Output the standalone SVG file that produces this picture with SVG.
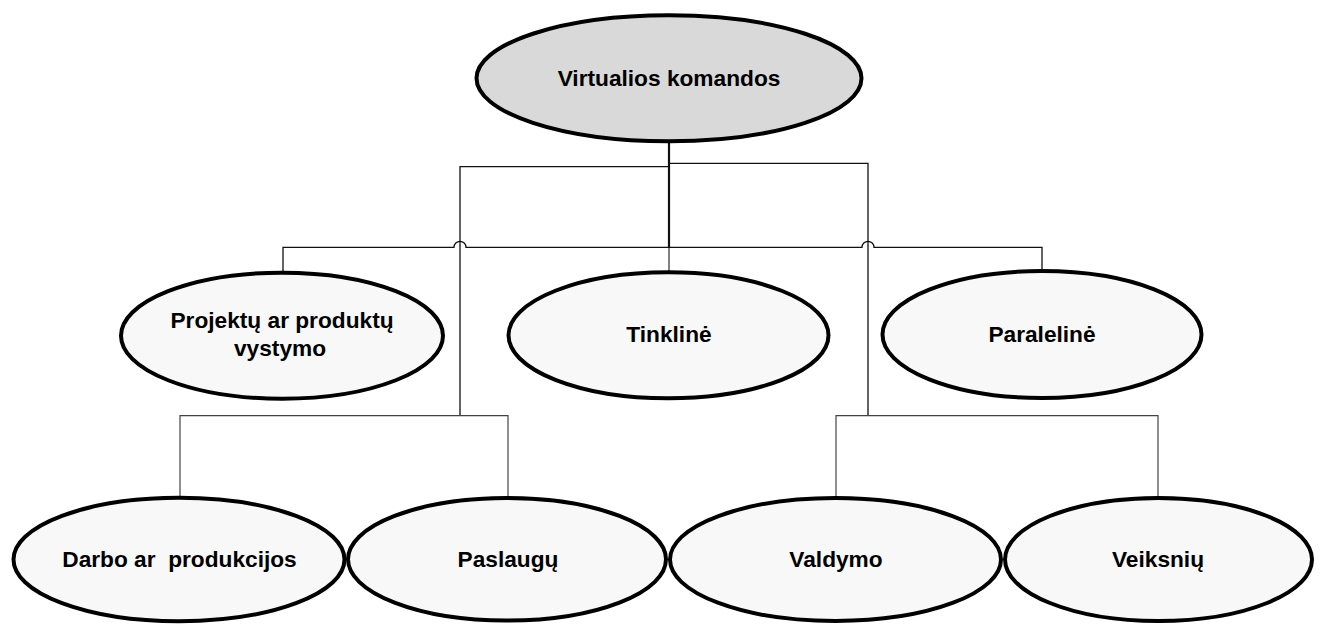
<svg xmlns="http://www.w3.org/2000/svg" width="1323" height="626" viewBox="0 0 1323 626">
<style>
.node{fill:#f8f8f8;stroke:#000;stroke-width:4}
.root{fill:#d9d9d9;stroke:#000;stroke-width:4}
.lbl{font-family:"Liberation Sans",Arial,sans-serif;font-weight:bold;font-size:22.7px;fill:#000;text-anchor:middle}
.c{fill:none;stroke:#111;stroke-width:1.3}
.cg{fill:none;stroke:#444;stroke-width:1.2}
</style>
<rect width="1323" height="626" fill="#fff"/>
<g id="connectors">
<path class="c" d="M669 143 V247.3" style="stroke-width:2.2"/>
<path class="cg" d="M669 247.3 V271" style="stroke:#808080;stroke-width:2"/>
<path class="c" d="M283 271 V247.3 H454 A6 6 0 0 1 466 247.3 H862 A6 6 0 0 1 874 247.3 H1042 V270"/>
<path class="c" d="M669 166.7 H460 V415.7"/>
<path class="c" d="M669 163.3 H868 V415.7"/>
<path class="cg" d="M180 496 V415.7 H508 V496"/>
<path class="cg" d="M836 496 V415.7 H1158 V496"/>
</g>
<g id="n-virtualios">
<ellipse class="root" cx="669" cy="78.3" rx="192.5" ry="63"/>
<text class="lbl" x="669" y="85.5">Virtualios komandos</text>
</g>
<g id="n-projektu">
<ellipse class="node" cx="282" cy="335.7" rx="161" ry="63"/>
<text class="lbl" x="282" y="328">Projektų ar produktų</text>
<text class="lbl" x="280" y="356">vystymo</text>
</g>
<g id="n-tinkline">
<ellipse class="node" cx="668.5" cy="335.3" rx="160" ry="63"/>
<text class="lbl" x="669" y="342.3">Tinklinė</text>
</g>
<g id="n-paraleline">
<ellipse class="node" cx="1042" cy="334.5" rx="159.5" ry="63.5"/>
<text class="lbl" x="1042" y="342">Paralelinė</text>
</g>
<g id="n-darbo">
<ellipse class="node" cx="179" cy="559.5" rx="165.5" ry="61.7"/>
<text class="lbl" x="179.5" y="566.7" xml:space="preserve">Darbo ar  produkcijos</text>
</g>
<g id="n-paslaugu">
<ellipse class="node" cx="507" cy="559.3" rx="159" ry="61.3"/>
<text class="lbl" x="508" y="566.7">Paslaugų</text>
</g>
<g id="n-valdymo">
<ellipse class="node" cx="835.5" cy="559.5" rx="165.5" ry="61.5"/>
<text class="lbl" x="836" y="566.7">Valdymo</text>
</g>
<g id="n-veiksniu">
<ellipse class="node" cx="1158.5" cy="559.5" rx="153.5" ry="61.5"/>
<text class="lbl" x="1158" y="566.7">Veiksnių</text>
</g>
</svg>
